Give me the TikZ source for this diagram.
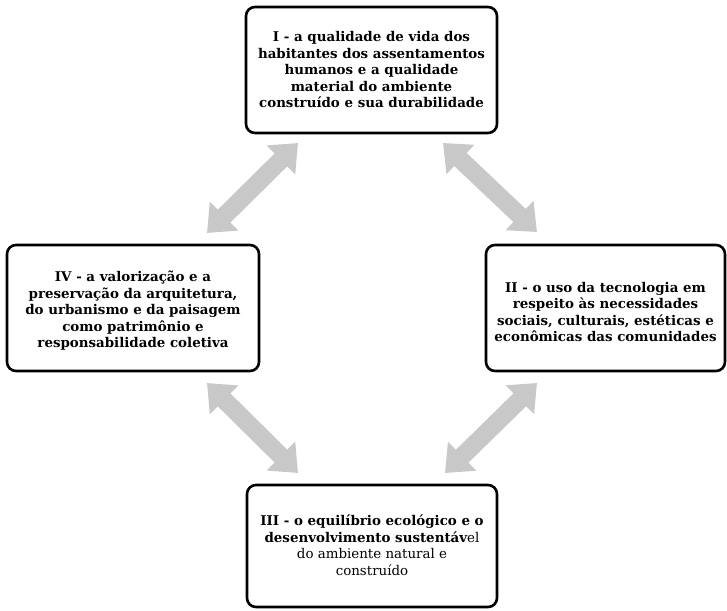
\documentclass[tikz,border=0pt]{standalone}
\usepackage{fontspec}
\setmainfont{DejaVu Serif}
\usetikzlibrary{arrows.meta}
\definecolor{arrowgray}{HTML}{C8C8C8}
\begin{document}
\begin{tikzpicture}[x=1pt,y=-1pt,
  box/.style={draw=black,line width=2.6pt,rounded corners=9pt,fill=white,inner sep=0pt},
  txt/.style={align=center,font=\fontsize{13.4}{16.5}\selectfont\bfseries},
  dbl/.style={draw=arrowgray,line width=18pt,
    {Triangle[width=39pt,length=24pt]}-{Triangle[width=39pt,length=24pt]}}]
\useasboundingbox (0,0) rectangle (727,610);
% boxes
\draw[box] (246,7) rectangle (497,133);
\node[txt] (I) at (371.5,70) {I - a qualidade de vida dos\\habitantes dos assentamentos\\humanos e a qualidade\\material do ambiente\\construído e sua durabilidade};
\draw[box] (7,245) rectangle (259,371);
\node[txt] (IV) at (133,311) {IV - a valorização e a\\preservação da arquitetura,\\do urbanismo e da paisagem\\como patrimônio e\\responsabilidade coletiva};
\draw[box] (486,245) rectangle (725,371);
\node[txt] (II) at (605.5,312) {II - o uso da tecnologia em\\respeito às necessidades\\sociais, culturais, estéticas e\\econômicas das comunidades};
\draw[box] (247,485) rectangle (497,607);
\node[txt] (III) at (372,545) {III - o equilíbrio ecológico e o\\desenvolvimento sustentáv{\mdseries el}\\{\mdseries do ambiente natural e}\\{\mdseries construído}};
% arrow end points
\coordinate (a1) at (207,233); \coordinate (b1) at (298,143);
\coordinate (a2) at (443,143); \coordinate (b2) at (537,232);
\coordinate (a3) at (207,383); \coordinate (b3) at (298,473);
\coordinate (a4) at (537,383); \coordinate (b4) at (445,473);
\draw[dbl] (a1) -- (b1);
\draw[dbl] (a2) -- (b2);
\draw[dbl] (a3) -- (b3);
\draw[dbl] (a4) -- (b4);
\end{tikzpicture}
\end{document}
